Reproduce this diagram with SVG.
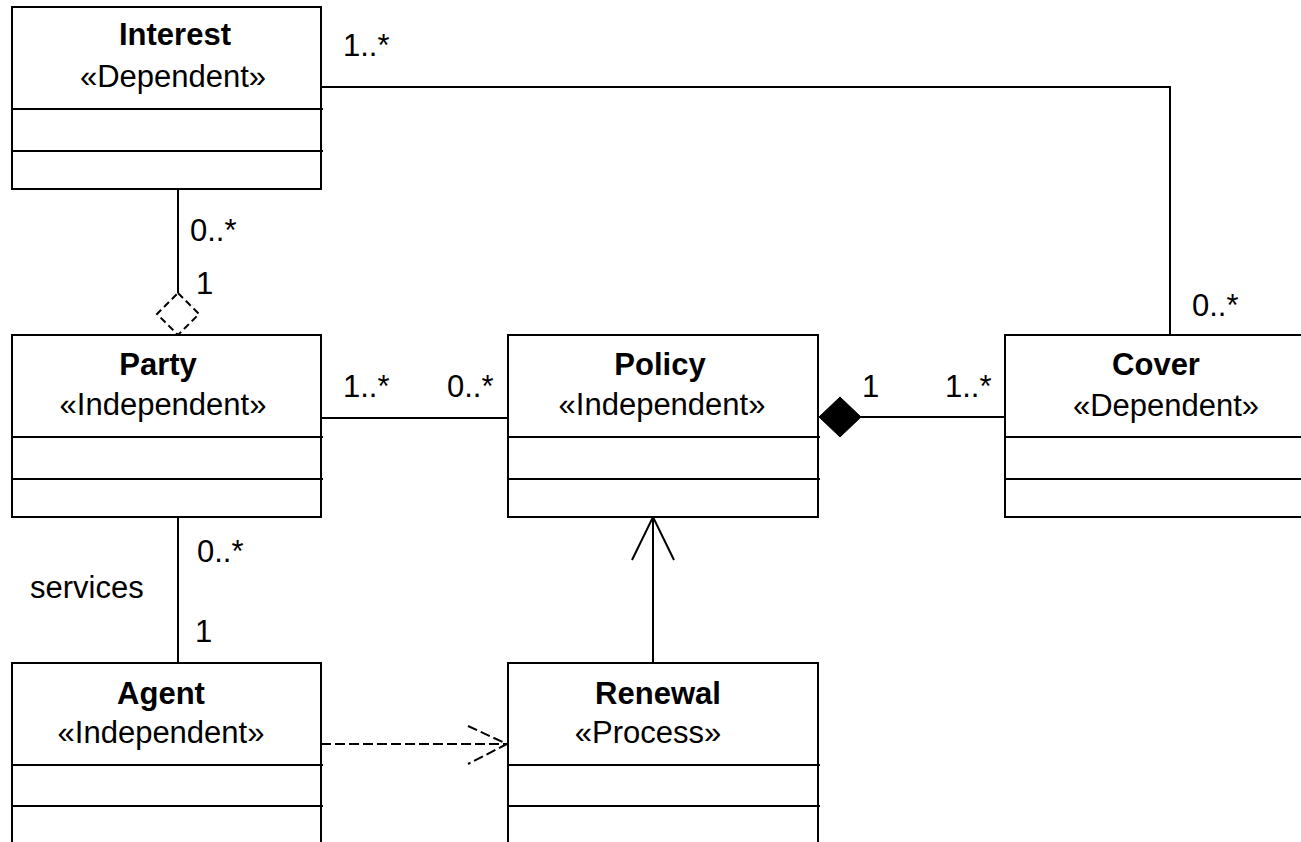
<svg xmlns="http://www.w3.org/2000/svg" width="1301" height="842" viewBox="0 0 1301 842">
  <style>
    .box { fill: #fff; stroke: #000; stroke-width: 2; }
    .sep { stroke: #000; stroke-width: 2; fill: none; }
    .line { stroke: #000; stroke-width: 2; fill: none; }
    .dash { stroke: #000; stroke-width: 2; fill: none; stroke-dasharray: 10 4; }
    .name { font-family: "Liberation Sans", Arial, sans-serif; font-size: 31px; font-weight: bold; text-anchor: middle; fill: #000; }
    .stereo { font-family: "Liberation Sans", Arial, sans-serif; font-size: 31px; text-anchor: middle; fill: #000; }
    .lbl { font-family: "Liberation Sans", Arial, sans-serif; font-size: 31px; fill: #000; }
  </style>
  <rect width="1301" height="842" fill="#fff"/>

  <!-- associations, aggregation, composition, navigation and dependency -->
  <g id="connectors">
    <!-- Interest to Cover -->
    <polyline class="line" points="321,87 1170,87 1170,335"/>
    <!-- Interest to Party (shared aggregation) -->
    <line class="line" x1="178" y1="189" x2="178" y2="293"/>
    <polygon class="dash" points="178,293 199,314 178,335 157,314" fill="#fff" style="stroke-dasharray: 7 4"/>
    <!-- Party to Policy -->
    <line class="line" x1="321" y1="418" x2="508" y2="418"/>
    <!-- Policy to Cover (composition) -->
    <line class="line" x1="860" y1="417" x2="1005" y2="417"/>
    <polygon points="819,417 840,397 861,417 840,437" fill="#000" stroke="#000" stroke-width="1"/>
    <!-- Party to Agent -->
    <line class="line" x1="178" y1="517" x2="178" y2="663"/>
    <!-- Renewal to Policy (navigable) -->
    <line class="line" x1="653" y1="663" x2="653" y2="517"/>
    <polyline class="line" points="632,560 653,517 674,560"/>
    <!-- Agent to Renewal (dependency) -->
    <line class="dash" x1="321" y1="744" x2="507" y2="744"/>
    <polyline class="dash" points="468,726 507,744 468,764"/>

    <text class="lbl" x="343" y="56">1..*</text>
    <text class="lbl" x="190" y="241">0..*</text>
    <text class="lbl" x="196" y="294">1</text>
    <text class="lbl" x="1192" y="316">0..*</text>
    <text class="lbl" x="343" y="397">1..*</text>
    <text class="lbl" x="447" y="397">0..*</text>
    <text class="lbl" x="862" y="397">1</text>
    <text class="lbl" x="945" y="397">1..*</text>
    <text class="lbl" x="197" y="562">0..*</text>
    <text class="lbl" x="30" y="598">services</text>
    <text class="lbl" x="195" y="642">1</text>
  </g>

  <g id="interest">
    <rect class="box" x="12" y="7" width="309" height="182"/>
    <line class="sep" x1="12" y1="109" x2="323" y2="109"/>
    <line class="sep" x1="12" y1="151" x2="323" y2="151"/>
    <text class="name" x="175" y="45">Interest</text>
    <text class="stereo" x="173" y="87">«Dependent»</text>
  </g>

  <g id="party">
    <rect class="box" x="12" y="335" width="309" height="182"/>
    <line class="sep" x1="12" y1="437" x2="323" y2="437"/>
    <line class="sep" x1="12" y1="479" x2="323" y2="479"/>
    <text class="name" x="158" y="375">Party</text>
    <text class="stereo" x="163" y="415">«Independent»</text>
  </g>

  <g id="policy">
    <rect class="box" x="508" y="335" width="310" height="182"/>
    <line class="sep" x1="508" y1="437" x2="820" y2="437"/>
    <line class="sep" x1="508" y1="479" x2="820" y2="479"/>
    <text class="name" x="660" y="375">Policy</text>
    <text class="stereo" x="662" y="415">«Independent»</text>
  </g>

  <g id="cover">
    <rect class="box" x="1005" y="335" width="310" height="182"/>
    <line class="sep" x1="1005" y1="437" x2="1315" y2="437"/>
    <line class="sep" x1="1005" y1="479" x2="1315" y2="479"/>
    <text class="name" x="1156" y="375">Cover</text>
    <text class="stereo" x="1166" y="416">«Dependent»</text>
  </g>

  <g id="agent">
    <rect class="box" x="12" y="663" width="309" height="200"/>
    <line class="sep" x1="12" y1="765" x2="323" y2="765"/>
    <line class="sep" x1="12" y1="806" x2="323" y2="806"/>
    <text class="name" x="161" y="704">Agent</text>
    <text class="stereo" x="161" y="743">«Independent»</text>
  </g>

  <g id="renewal">
    <rect class="box" x="508" y="663" width="310" height="200"/>
    <line class="sep" x1="508" y1="765" x2="820" y2="765"/>
    <line class="sep" x1="508" y1="806" x2="820" y2="806"/>
    <text class="name" x="658" y="704">Renewal</text>
    <text class="stereo" x="648" y="743">«Process»</text>
  </g>
</svg>
